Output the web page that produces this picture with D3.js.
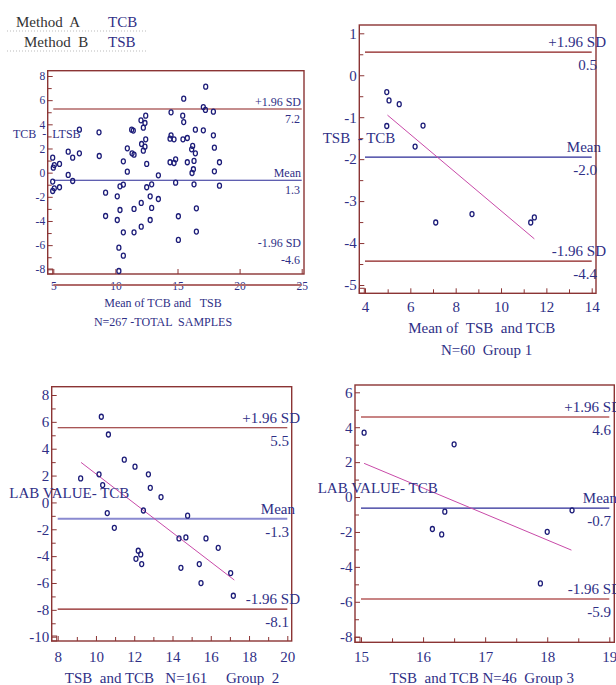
<!DOCTYPE html>
<html lang="en">
<head>
<meta charset="UTF-8">
<script src="https://d3js.org/d3.v7.min.js"></script>
<style>
  body { margin: 0; background: #fff; }
  text { font-family: "Liberation Serif", "Times New Roman", serif; white-space: pre; }
</style>
</head>
<body>
<svg id="chart" width="616" height="685"></svg>
<script>
// total samples: mean of the two methods vs difference
var totalMeans = [4.95, 5.0, 5.08, 4.95, 5.08, 4.95, 5.5, 5.5, 6.2, 6.2, 6.56, 6.56, 7.1, 7.1, 8.68, 8.7,
  9.21, 9.21, 10.15, 10.15, 10.28, 10.28, 10.37, 10.37, 10.64, 10.64, 10.64, 10.64, 10.96, 10.96,
  11.31, 11.44, 11.34, 11.5, 11.5, 11.5, 12.06, 12.11, 12.25, 12.25, 12.38, 12.38, 12.44, 12.44,
  12.52, 12.52, 12.08, 12.08, 12.8, 12.8, 12.92, 12.92, 13.46, 13.46, 14.48, 14.48, 14.4, 14.4,
  14.72, 14.72, 14.85, 14.85, 15.07, 15.07, 15.5, 15.42, 15.5, 15.44, 15.79, 15.79, 16.22, 16.14,
  16.28, 16.17, 16.33, 16.44, 16.44, 16.33, 16.52, 16.52, 17.08, 17.08, 17.25, 17.27, 17.89, 17.89,
  17.97, 17.97, 18.38, 18.38];
var totalDiffs = [1.24, 0.41, 0.63, -0.74, -1.3, -1.52, -1.21, 0.72, 1.74, -0.19, 1.24, -0.69, 1.6, 3.56, 3.34, 1.38,
  -1.66, -3.59, -1.96, -3.92, -6.21, -8.14, -1.13, -3.09, -0.99, 0.94, -4.94, -6.87, 2.01, 0.08,
  3.56, 3.48, 1.6, 1.49, -3.0, -4.94, 4.33, 2.37, 3.72, 1.82, 4.11, 2.15, 4.72, 2.76,
  0.72, -1.21, -2.51, -4.47, -1.96, -3.92, -0.97, -2.92, -0.22, -2.18, 4.99, 3.09, 2.81, 0.86,
  2.76, 0.8, 1.1, -0.83, -3.61, -5.57, 6.12, 4.72, 4.19, 2.76, 2.87, 0.86, 2.21, 1.93,
  0.28, -0.03, 0.97, 1.6, 3.56, -0.97, -2.95, -4.88, 3.5, 5.43, 5.19, 7.12, 5.05, 3.09,
  2.07, 0.11, 0.86, -1.08];

var g1Means = [4.96, 5.06, 5.51, 4.96, 6.56, 6.21, 7.12, 8.72, 11.31, 11.47];
var g1Diffs = [-0.40, -0.60, -0.69, -1.21, -1.20, -1.70, -3.51, -3.31, -3.51, -3.39];

var g2Means = [9.2, 10.28, 10.16, 10.35, 10.65, 10.59, 10.96, 11.48, 12.04, 12.09, 12.21, 12.34, 12.39, 12.48,
  12.74, 12.84, 13.4, 14.34, 14.44, 14.7, 14.79, 15.4, 15.49, 15.75, 16.39, 17.04, 17.18];
var g2Diffs = [1.79, 6.38, 2.09, 1.29, 5.06, -0.79, -1.89, 3.18, 2.66, -4.2, -3.6, -3.87, -4.59, -0.6,
  2.09, 1.09, 0.4, -2.68, -4.87, -2.61, -0.99, -4.59, -6.01, -2.68, -3.38, -5.26, -6.95];

var g3Means = [15.05, 16.5, 16.15, 16.3, 16.35, 18.0, 17.89, 18.4];
var g3Diffs = [3.69, 3.02, -1.83, -2.14, -0.84, -1.99, -4.95, -0.76];

// limit lines: +1.96 SD, mean, -1.96 SD
var limitNames = ['+1.96 SD', 'Mean', '-1.96 SD'];
var totalLimits = [5.27, -0.63, null];
var g1Limits = [0.55, -1.95, -4.43];
var g2Limits = [5.56, -1.21, -7.94];
var g3Limits = [4.59, -0.64, -5.84];
var totalLabels = ['7.2', '1.3', '-4.6'];
var g1Labels = ['0.5', '-2.0', '-4.4'];
var g2Labels = ['5.5', '-1.3', '-8.1'];
var g3Labels = ['4.6', '-0.7', '-5.9'];

// regression lines (start, end)
var g1Fit = [[4.99, -0.95], [11.47, -3.90]];
var g2Fit = [[9.22, 2.98], [17.23, -5.78]];
var g3Fit = [[15.05, 1.93], [18.39, -3.04]];

var legendMethods = ['Method  A', 'Method  B'];
var legendNames = ['TCB', 'TSB'];

var RED = '#8b3434', NAVY = '#2f2f86', DOT = '#1c1c78';
var svg = d3.select('#chart');
var plain = function (d) { return String(d); };   // keep hyphen minus like the original

// legend
legendMethods.forEach(function (m, i) {
  svg.append('text').attr('x', 16 + i * 8).attr('y', 27 + i * 20).attr('font-size', 15)
    .attr('fill', '#333').text(m);
  svg.append('text').attr('x', 108).attr('y', 27 + i * 20).attr('font-size', 15)
    .attr('fill', NAVY).text(legendNames[i]);
  svg.append('line').attr('x1', 7).attr('x2', 147).attr('y1', 31 + i * 20).attr('y2', 31 + i * 20)
    .attr('stroke', '#bbb').attr('stroke-dasharray', '1,2');
});

var panels = [
  { xs: totalMeans, ys: totalDiffs, lim: totalLimits, labs: totalLabels, fit: null,
    xd: [5, 25], xr: [53.3, 301.7], yd: [-8, 8], yr: [269.3, 76],
    frame: [47.7, 70.7, 304, 274], fs: 12, tfs: 11.5,
    xMaj: [5, 10, 15, 20, 25], xMin: [], yMaj: [-8, -6, -4, -2, 0, 2, 4, 6, 8], yMin: [-7, -5, -3, -1, 1, 3, 5, 7],
    xLabY: 290, strike: 285, labRight: 301, valRight: 300, meanRight: 301, above: 3, below: 14,
    lowFixed: [247, 264],
    yTitle: ['TCB  -  LTSB', 13, 138], xTitles: [['Mean of TCB and   TSB', 163, 307], ['N=267 -TOTAL  SAMPLES', 163, 326]] },
  { xs: g1Means, ys: g1Diffs, lim: g1Limits, labs: g1Labels, fit: g1Fit,
    xd: [4, 14], xr: [365, 591.7], yd: [-5, 1], yr: [285, 33.3],
    frame: [359.3, 25, 596, 293.3], fs: 15, tfs: 15,
    xMaj: [4, 6, 8, 10, 12, 14], xMin: [5, 7, 9, 11, 13], yMaj: [-5, -4, -3, -2, -1, 0, 1],
    yMin: [-4.5, -3.5, -2.5, -1.5, -0.5, 0.5],
    xLabY: 312, labRight: 606, valRight: 597, meanRight: 601, above: 5, below: 18,
    yTitle: ['TSB  - TCB', 322.7, 142.5], xTitles: [['Mean of  TSB  and TCB', 481.7, 333], ['N=60  Group 1', 486.7, 355]] },
  { xs: g2Means, ys: g2Diffs, lim: g2Limits, labs: g2Labels, fit: g2Fit,
    xd: [8, 20], xr: [57.7, 287.3], yd: [-10, 8], yr: [636.7, 395],
    frame: [51.7, 386.7, 291.7, 641], fs: 15, tfs: 15, meanStyle: ['#8a8ad0', 2],
    xMaj: [8, 10, 12, 14, 16, 18, 20], xMin: [9, 11, 13, 15, 17, 19],
    yMaj: [-10, -8, -6, -4, -2, 0, 2, 4, 6, 8], yMin: [-9, -7, -5, -3, -1, 1, 3, 5, 7],
    xLabY: 662, labRight: 300, valRight: 289, meanRight: 295, above: 5, below: 18,
    yTitle: ['LAB VALUE- TCB', 9.3, 497.5], xTitles: [['TSB  and TCB   N=161     Group  2', 172, 683]] },
  { xs: g3Means, ys: g3Diffs, lim: g3Limits, labs: g3Labels, fit: g3Fit,
    xd: [15, 19], xr: [361, 609.3], yd: [-8, 6], yr: [636.7, 392.3],
    frame: [355, 385, 614.3, 642.3], fs: 15, tfs: 15, sdStyle: ['#c88484', 2],
    xMaj: [15, 16, 17, 18, 19], xMin: [15.5, 16.5, 17.5, 18.5],
    yMaj: [-8, -6, -4, -2, 0, 2, 4, 6], yMin: [-7, -5, -3, -1, 1, 3, 5],
    xLabY: 662, labRight: 622, valRight: 611, meanRight: 617, above: 5, below: 18,
    yTitle: ['LAB VALUE- TCB', 317.7, 493], xTitles: [['TSB  and TCB N=46  Group 3', 481.7, 683]] }
];

function styleAxis(g, p) {
  g.select('.domain').remove();
  g.selectAll('line').attr('stroke', RED);
  g.selectAll('text').attr('fill', NAVY).attr('font-size', p.tfs)
    .style('font-family', '"Liberation Serif", serif');
}

panels.forEach(function (p) {
  var g = svg.append('g');
  var x = d3.scaleLinear().domain(p.xd).range(p.xr);
  var y = d3.scaleLinear().domain(p.yd).range(p.yr);
  var f = p.frame;

  // frame
  g.append('rect').attr('x', f[0]).attr('y', f[1]).attr('width', f[2] - f[0]).attr('height', f[3] - f[1])
    .attr('fill', 'none').attr('stroke', RED).attr('stroke-width', 1.4);
  g.append('rect').attr('x', f[0]).attr('y', f[3] - 5).attr('width', 5).attr('height', 5)
    .attr('fill', 'none').attr('stroke', RED);

  // y axis
  g.append('g').attr('transform', 'translate(' + f[0] + ',0)')
    .call(d3.axisLeft(y).tickValues(p.yMaj).tickFormat(plain).tickSizeInner(-5).tickSizeOuter(0).tickPadding(2.5))
    .call(styleAxis, p);
  g.append('g').attr('transform', 'translate(' + f[0] + ',0)')
    .call(d3.axisLeft(y).tickValues(p.yMin).tickFormat('').tickSizeInner(-4).tickSizeOuter(0))
    .call(styleAxis, p);

  // x axis
  var xa = g.append('g').attr('transform', 'translate(0,' + f[3] + ')')
    .call(d3.axisBottom(x).tickValues(p.xMaj).tickFormat(plain).tickSizeInner(-5).tickSizeOuter(0))
    .call(styleAxis, p);
  xa.selectAll('text').attr('dy', null).attr('y', p.xLabY - f[3]);
  g.append('g').attr('transform', 'translate(0,' + f[3] + ')')
    .call(d3.axisBottom(x).tickValues(p.xMin).tickFormat('').tickSizeInner(-4).tickSizeOuter(0))
    .call(styleAxis, p);
  if (p.strike) {
    g.append('line').attr('x1', x.range()[0]).attr('x2', x.range()[1])
      .attr('y1', p.strike).attr('y2', p.strike).attr('stroke', '#b06a6a').attr('stroke-width', 2);
  }

  // limit lines and labels
  p.lim.forEach(function (v, i) {
    var isMean = i === 1;
    var col = isMean ? (p.meanStyle ? p.meanStyle[0] : '#2a2a96') : (p.sdStyle ? p.sdStyle[0] : '#8b1c1c');
    var sw = isMean ? (p.meanStyle ? p.meanStyle[1] : 1.2) : (p.sdStyle ? p.sdStyle[1] : 1.2);
    var yTop, yBot;
    if (v !== null) {
      g.append('line').attr('x1', x.range()[0]).attr('x2', x.range()[1])
        .attr('y1', y(v)).attr('y2', y(v)).attr('stroke', col).attr('stroke-width', sw);
      yTop = y(v) - p.above; yBot = y(v) + p.below;
    } else {
      yTop = p.lowFixed[0]; yBot = p.lowFixed[1];
    }
    g.append('text').attr('x', isMean ? p.meanRight : p.labRight).attr('y', yTop)
      .attr('text-anchor', 'end').attr('font-size', p.fs).attr('fill', NAVY).text(limitNames[i]);
    g.append('text').attr('x', p.valRight).attr('y', yBot)
      .attr('text-anchor', 'end').attr('font-size', p.fs).attr('fill', NAVY).text(p.labs[i]);
  });

  // regression line
  if (p.fit) {
    g.append('line').attr('x1', x(p.fit[0][0])).attr('y1', y(p.fit[0][1]))
      .attr('x2', x(p.fit[1][0])).attr('y2', y(p.fit[1][1]))
      .attr('stroke', '#c84aa8').attr('stroke-width', 1);
  }

  // points
  g.selectAll('ellipse.pt').data(d3.zip(p.xs, p.ys)).join('ellipse').attr('class', 'pt')
    .attr('cx', function (d) { return x(d[0]); }).attr('cy', function (d) { return y(d[1]); })
    .attr('rx', 2).attr('ry', 2.5).attr('fill', 'none').attr('stroke', DOT).attr('stroke-width', 1.3);

  // titles
  g.append('text').attr('x', p.yTitle[1]).attr('y', p.yTitle[2]).attr('font-size', p.fs)
    .attr('fill', NAVY).text(p.yTitle[0]);
  p.xTitles.forEach(function (t) {
    g.append('text').attr('x', t[1]).attr('y', t[2]).attr('text-anchor', 'middle')
      .attr('font-size', p.fs).attr('fill', NAVY).text(t[0]);
  });
});
</script>
</body>
</html>
